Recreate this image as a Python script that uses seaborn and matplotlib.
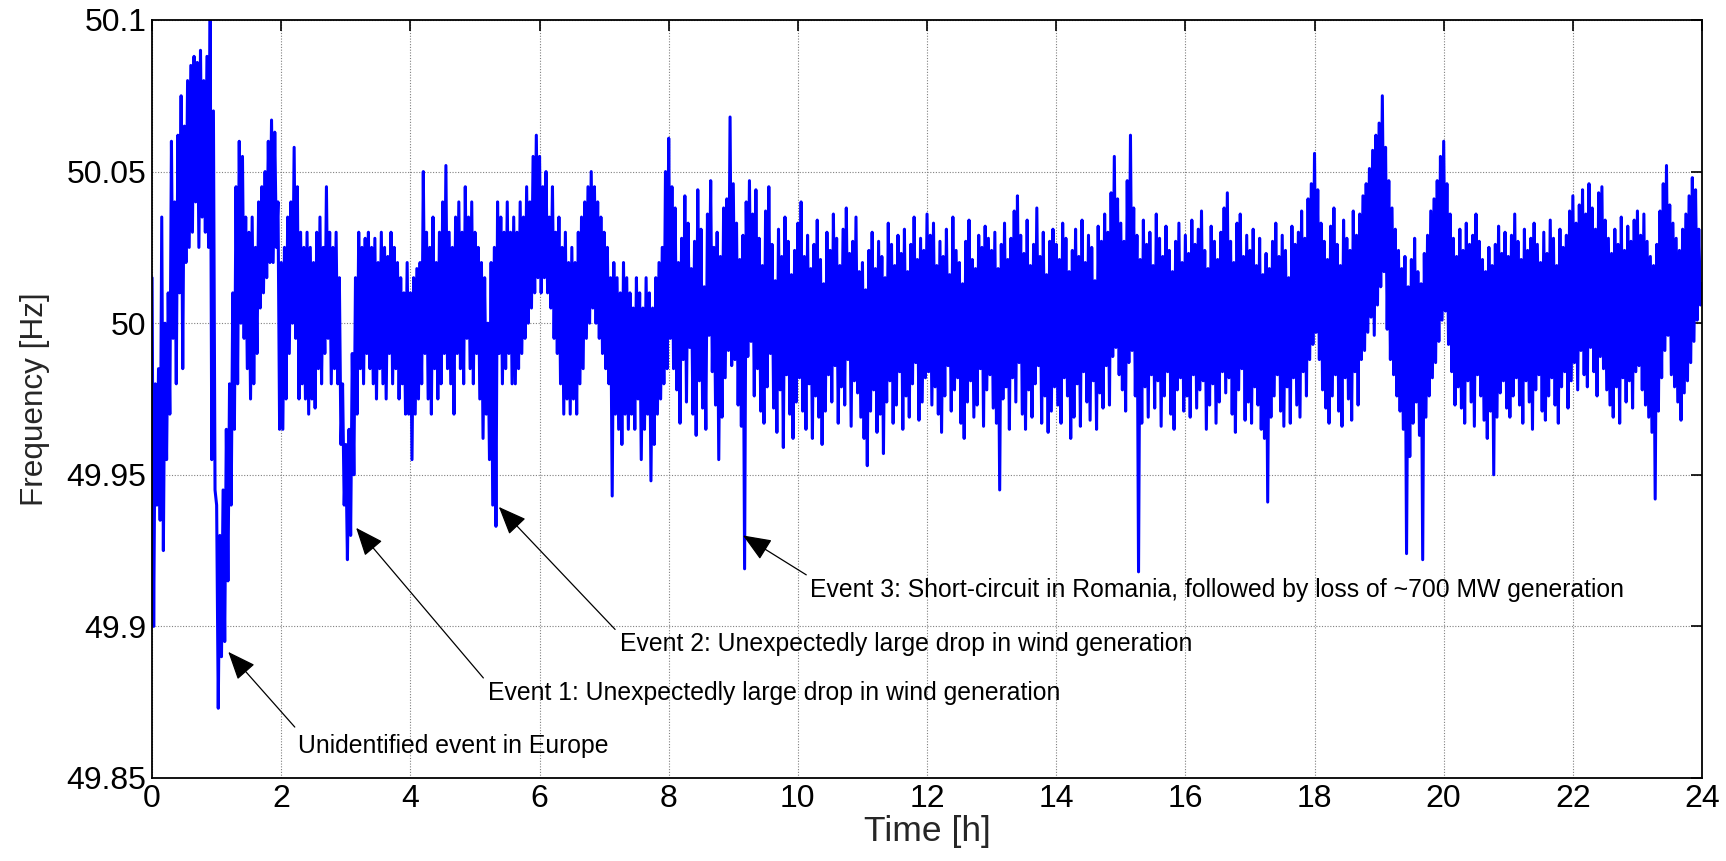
import numpy as np
import pandas as pd
import matplotlib
matplotlib.use("Agg")
import matplotlib.pyplot as plt
import seaborn as sns

# Frequency deviation from 50 Hz in mHz, read as (high, low) pairs for every 0.05 h slot
h00 = [15, -100, -20, -60, -15, -65, 35, -75, 0, -45, 10, -30, 60, -5, 40, -20, 62, 10, 75, -15,
       65, 20, 80, 25, 85, 30, 88, 40, 86, 25, 90, 35, 80, 30, 88, 25, 100, -45, 70, -55]
h01 = [-60, -127, -70, -110, -55, -105, -35, -85, -20, -60, 10, -35, 45, -20, 60, 0, 55, -5, 35, -15,
       30, -25, 35, -20, 25, -10, 40, 5, 45, 10, 50, 15, 60, 20, 67, 20, 63, 25, 40, -35]
h02 = [20, -35, 25, -25, 35, -10, 40, 0, 58, -5, 45, -25, 30, -20, 25, -25, 30, -30, 25, -25,
       20, -28, 30, -15, 35, -20, 25, -10, 45, -5, 30, -20, 25, -15, 30, -20, 15, -40, -20, -60]
h03 = [-40, -78, -35, -70, -10, -50, 15, -30, 30, -15, 25, -20, 28, -10, 30, -15, 25, -20, 28, -25,
       20, -15, 30, -20, 25, -25, 22, -10, 30, -20, 25, -15, 20, -25, 15, -20, 10, -30, 20, -30]
h04 = [10, -45, 15, -30, 18, -25, 20, -20, 50, -10, 30, -25, 25, -30, 35, -15, 20, -25, 30, -20,
       40, -10, 52, -15, 30, -20, 25, -30, 35, -10, 40, -15, 30, -20, 45, -5, 35, -15, 40, -20]
h05 = [30, -10, 25, -25, 20, -38, 15, -30, 0, -45, 20, -60, 25, -67, 40, -10, 35, -20, 30, -15,
       40, -10, 30, -20, 35, -20, 30, -15, 40, -10, 35, -5, 45, 0, 40, 5, 55, 10, 62, 15]
h06 = [55, 10, 45, 15, 50, 10, 35, 5, 45, -5, 30, -10, 35, -20, 25, -30, 30, -25, 20, -30,
       25, -25, 20, -30, 30, -20, 35, -15, 40, -5, 45, 0, 50, 5, 45, 0, 40, -5, 35, -10]
h07 = [30, -15, 25, -20, 15, -57, 20, -30, 15, -35, 10, -40, 20, -30, 15, -35, 10, -30, 5, -35,
       15, -25, 10, -45, 5, -35, 15, -30, 10, -52, 5, -40, 15, -30, 20, -25, 25, -20, 50, -15]
h08 = [61, -5, 45, -15, 38, -22, 20, -33, 28, -12, 42, -26, 33, -8, 18, -30, 27, -37, 44, -19,
       31, -28, 12, -35, 36, -4, 47, -16, 25, -27, 30, -45, 22, -31, 38, -18, 41, -9, 68, -14]
h09 = [46, -12, 33, -27, 21, -34, 29, -81, 40, -11, 47, -6, 36, -24, 44, -15, 28, -29, 19, -33,
       37, -21, 45, -10, 26, -28, 14, -36, 31, -22, 22, -41, 35, -17, 27, -30, 16, -38, 24, -26]
h10 = [33, -18, 40, -29, 22, -35, 29, -20, 18, -38, 26, -24, 34, -31, 21, -40, 13, -29, 30, -17,
       24, -26, 36, -14, 28, -33, 19, -21, 31, -27, 38, -12, 23, -34, 27, -19, 35, -23, 17, -31]
h11 = [20, -38, 11, -47, 24, -29, 30, -22, 18, -36, 27, -30, 22, -43, 15, -26, 33, -19, 26, -33,
       19, -27, 29, -16, 23, -35, 31, -24, 17, -31, 26, -20, 35, -13, 21, -32, 28, -26, 24, -18]
h12 = [36, -16, 29, -27, 33, -21, 19, -30, 27, -36, 22, -24, 31, -14, 16, -29, 35, -22, 24, -18,
       20, -33, 13, -38, 27, -26, 34, -19, 21, -31, 18, -27, 29, -15, 25, -34, 32, -22, 28, -17]
h13 = [24, -28, 30, -33, 18, -55, 26, -25, 33, -21, 21, -35, 28, -18, 37, -26, 42, -13, 29, -30,
       23, -35, 34, -22, 19, -31, 26, -20, 38, -14, 22, -33, 30, -24, 16, -36, 27, -29, 31, -21]
h14 = [26, -27, 21, -33, 33, -18, 28, -24, 17, -38, 24, -31, 31, -20, 22, -34, 34, -16, 20, -26,
       29, -32, 25, -19, 14, -35, 32, -23, 27, -28, 36, -14, 30, -27, 43, -11, 55, -8, 41, -17]
h15 = [33, -22, 27, -29, 47, -13, 62, -9, 38, -24, 29, -82, 21, -33, 34, -21, 26, -31, 30, -17,
       19, -28, 36, -19, 28, -34, 22, -24, 32, -16, 24, -30, 17, -35, 27, -22, 33, -18, 20, -29]
h16 = [29, -24, 23, -31, 34, -17, 26, -28, 31, -22, 37, -19, 24, -35, 18, -27, 32, -20, 27, -33,
       21, -26, 30, -16, 38, -23, 43, -18, 27, -30, 20, -36, 33, -22, 36, -15, 22, -32, 29, -26]
h17 = [24, -33, 31, -21, 19, -27, 28, -35, 16, -38, 23, -59, 18, -31, 27, -24, 33, -17, 22, -29,
       29, -34, 24, -21, 15, -33, 32, -18, 26, -27, 30, -31, 37, -16, 28, -24, 41, -12, 46, -7]
h18 = [56, -3, 44, -12, 33, -22, 27, -28, 21, -33, 32, -24, 38, -17, 26, -29, 19, -34, 34, -18,
       28, -25, 24, -32, 37, -16, 29, -27, 36, -12, 42, -9, 46, -3, 51, 2, 57, -4, 62, 6]
h19 = [66, 12, 75, 17, 58, -2, 47, -12, 38, -17, 31, -24, 24, -29, 18, -35, 22, -76, 12, -44,
       21, -33, 28, -26, 17, -37, 13, -78, 23, -31, 29, -24, 37, -18, 41, -13, 47, -6, 55, 1]
h20 = [60, 4, 46, -7, 36, -16, 28, -27, 22, -21, 31, -28, 24, -33, 33, -19, 26, -26, 29, -34,
       36, -17, 27, -24, 21, -32, 17, -38, 25, -29, 19, -50, 26, -31, 32, -23, 23, -19, 30, -28]
h21 = [22, -31, 29, -24, 36, -18, 27, -27, 21, -33, 31, -19, 24, -26, 28, -35, 33, -22, 26, -17,
       20, -29, 30, -32, 23, -24, 34, -18, 28, -27, 19, -33, 31, -21, 25, -16, 29, -28, 37, -19]
h22 = [42, -13, 33, -22, 39, -9, 44, -17, 36, -21, 46, -8, 38, -16, 31, -24, 43, -11, 45, -15,
       34, -22, 28, -27, 23, -31, 31, -21, 26, -33, 35, -18, 24, -26, 32, -19, 27, -28, 34, -16]
h23 = [37, -14, 29, -22, 36, -27, 27, -31, 22, -36, 19, -58, 26, -29, 37, -18, 46, -9, 52, -4,
       39, -17, 33, -21, 28, -26, 24, -32, 31, -23, 36, -19, 42, -13, 48, -6, 44, 1, 31, 6]
h24 = [13]

hours = [h00, h01, h02, h03, h04, h05, h06, h07, h08, h09, h10, h11,
         h12, h13, h14, h15, h16, h17, h18, h19, h20, h21, h22, h23, h24]
dev_mhz = np.concatenate([np.asarray(h, dtype=float) for h in hours])
step_h = 0.025
time_h = np.arange(len(dev_mhz)) * step_h
freq_hz = 50.0 + dev_mhz / 1000.0

x_ticks = [0, 2, 4, 6, 8, 10, 12, 14, 16, 18, 20, 22, 24]
y_ticks = [49.85, 49.9, 49.95, 50.0, 50.05, 50.1]
y_tick_labels = ["49.85", "49.9", "49.95", "50", "50.05", "50.1"]

annotations = [
    # (text, arrow tip (t, f), arrow tail (t, f), text anchor (t, f))
    ("Unidentified event in Europe", (1.18, 49.8916), (2.21, 49.8668), (2.26, 49.8606)),
    ("Event 1: Unexpectedly large drop in wind generation", (3.16, 49.9325), (5.13, 49.883), (5.20, 49.878)),
    ("Event 2: Unexpectedly large drop in wind generation", (5.37, 49.9394), (7.17, 49.899), (7.25, 49.8942)),
    ("Event 3: Short-circuit in Romania, followed by loss of ~700 MW generation", (9.15, 49.930), (10.13, 49.917), (10.19, 49.912)),
]

df = pd.DataFrame({"Time [h]": time_h, "Frequency [Hz]": freq_hz})

sns.set_theme(style="white")
plt.rcParams["font.family"] = ["Liberation Sans", "DejaVu Sans"]

fig = plt.figure(figsize=(17.26, 8.61), dpi=100)
ax = fig.add_axes([0.0881, 0.0964, 0.8980, 0.8804])

sns.lineplot(data=df, x="Time [h]", y="Frequency [Hz]", ax=ax, color="#0000FF",
             linewidth=2.2, estimator=None, sort=False)

ax.set_xlim(0, 24)
ax.set_ylim(49.85, 50.1)
ax.set_xticks(x_ticks)
ax.set_xticklabels([str(v) for v in x_ticks])
ax.set_yticks(y_ticks)
ax.set_yticklabels(y_tick_labels)
ax.grid(True, linestyle=(0, (1, 1.5)), color="#808080", linewidth=0.8)
ax.tick_params(axis="both", which="major", direction="in", length=8, width=1.2,
               labelsize=23, colors="black", top=True, right=True, pad=4)
for s in ax.spines.values():
    s.set_color("black")
    s.set_linewidth(1.3)

ax.set_xlabel("Time [h]", fontsize=25.5, labelpad=1)
ax.set_ylabel("Frequency [Hz]", fontsize=22.7, labelpad=12)

for text, tip, tail, anchor in annotations:
    ax.annotate("", xy=tip, xytext=tail,
                arrowprops=dict(arrowstyle="-|>,head_length=1.1,head_width=0.45",
                                color="black", lw=0.9, mutation_scale=16,
                                shrinkA=0, shrinkB=0))
    ax.text(anchor[0], anchor[1], text, fontsize=17.8, ha="left", va="center", color="black")

fig.savefig("out.png", dpi=100)
